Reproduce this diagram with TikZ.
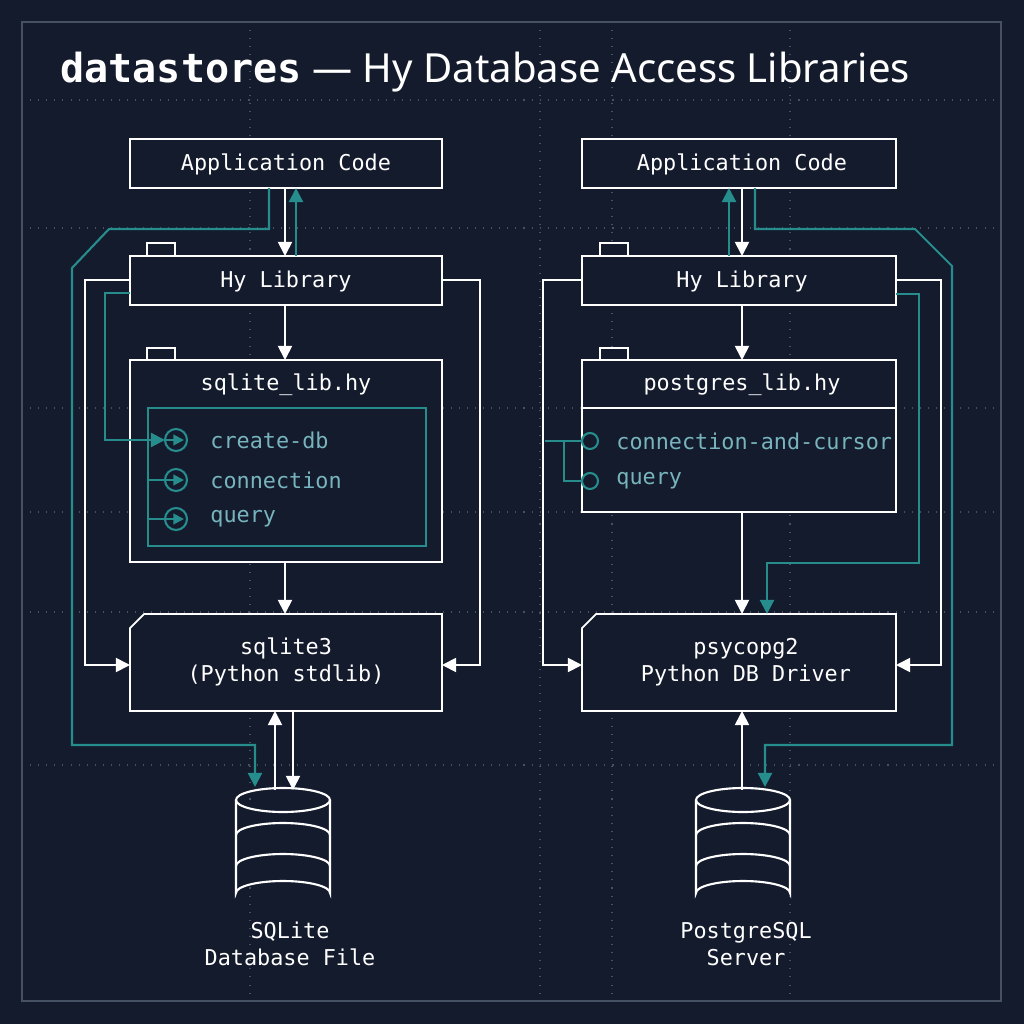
\documentclass[tikz,border=0pt]{standalone}
\usepackage{fontspec}
\setmainfont{Noto Sans}
\setmonofont{DejaVu Sans Mono}
\usetikzlibrary{arrows.meta}

\definecolor{bg}{RGB}{20,27,45}
\definecolor{myteal}{RGB}{38,140,140}
\definecolor{tealtext}{RGB}{120,180,190}
\definecolor{mygrid}{RGB}{70,82,100}

\tikzset{
  box/.style={draw=white, line width=0.5pt, fill=bg},
  wire/.style={draw=white, line width=0.5pt, -{Triangle[width=4pt,length=4pt]}},
  twire/.style={draw=myteal, line width=0.6pt, -{Triangle[width=4pt,length=4pt]}},
  lbl/.style={text=white, font=\ttfamily\fontsize{6.2}{7.5}\selectfont, align=center},
  fn/.style={text=tealtext, font=\ttfamily\fontsize{6.2}{7.5}\selectfont, anchor=west}
}

\begin{document}
\begin{tikzpicture}[x=0.01cm, y=-0.01cm]

    %Hintergrund
    \fill [bg] (0,0) rectangle (1024,1024);
    \draw [mygrid, line width=0.5pt] (22,22) rectangle (1001,1001);
    \foreach \gy in {100,228,408,512,612,765}
        \draw [mygrid, dotted, line width=0.3pt] (22,\gy) -- (1001,\gy);
    \foreach \gx in {250,540,612,790}
        \draw [mygrid, dotted, line width=0.3pt] (\gx,22) -- (\gx,1001);

    %Titel
    \node [anchor=west, text=white, font=\fontsize{11.4}{13}\selectfont] (title) at (48,72)
        {\textbf{\ttfamily datastores} --- Hy Database Access Libraries};

%Linke Seite

    %Kaesten
    \draw [box] (147,243) rectangle (175,256);
    \draw [box] (147,348) rectangle (175,360);
    \draw [box] (130,139) rectangle (442,188);
    \draw [box] (130,256) rectangle (442,305);
    \draw [box] (130,360) rectangle (442,562);
    \draw [myteal, line width=0.6pt] (148,408) rectangle (426,546);
    \draw [box] (144,614) -- (442,614) -- (442,711) -- (130,711) -- (130,628) -- cycle;
    \node [lbl] (appA) at (286,164) {Application Code};
    \node [lbl] (hyA) at (286,281) {Hy Library};
    \node [lbl] (libA) at (286,385) {sqlite\_lib.hy};
    \node [lbl] (sqlA) at (286,662) {sqlite3\\(Python stdlib)};

    %Funktionen
    \foreach \fy/\fname in {440/create-db,480/connection,519/query} {
        \draw [myteal, line width=0.6pt] (176,\fy) circle (11);
        \draw [myteal, line width=0.6pt, -{Triangle[width=3pt,length=3pt]}] (166,\fy) -- (184,\fy);
        \node [fn] at (198,\fy) {\fname};
    }
    \draw [myteal, line width=0.6pt] (148,480) -- (165,480);
    \draw [myteal, line width=0.6pt] (148,519) -- (165,519);

    %Datenbank
    \draw [white, line width=0.6pt, fill=bg] (236,800) -- (236,893) arc (180:360:47 and 12) -- (330,800);
    \draw [white, line width=0.6pt] (283,800) ellipse (47 and 12);
    \draw [white, line width=0.6pt] (236,835) arc (180:360:47 and 12);
    \draw [white, line width=0.6pt] (236,866) arc (180:360:47 and 12);
    \node [lbl] (dbA) at (290,944) {SQLite\\Database File};

    %Pfeile
    \draw [wire] (285,188) -- (285,256);
    \draw [twire] (296,256) -- (296,188);
    \draw [wire] (285,305) -- (285,360);
    \draw [wire] (285,562) -- (285,614);
    \draw [wire] (130,280) -- (85,280) -- (85,665) -- (130,665);
    \draw [wire] (442,280) -- (480,280) -- (480,665) -- (442,665);
    \draw [twire] (130,293) -- (105,293) -- (105,440) -- (165,440);
    \draw [twire] (269,188) -- (269,229) -- (109,229) -- (72,268) -- (72,745) -- (255,745) -- (255,787);
    \draw [wire] (275,790) -- (275,711);
    \draw [wire] (293,711) -- (293,790);

%Rechte Seite

    %Kaesten
    \draw [box] (600,243) rectangle (628,256);
    \draw [box] (600,348) rectangle (628,360);
    \draw [box] (582,139) rectangle (896,188);
    \draw [box] (582,256) rectangle (896,305);
    \draw [box] (582,360) rectangle (896,512);
    \draw [white, line width=0.5pt] (582,408) -- (896,408);
    \draw [box] (596,614) -- (896,614) -- (896,711) -- (582,711) -- (582,628) -- cycle;
    \node [lbl] (appB) at (742,164) {Application Code};
    \node [lbl] (hyB) at (742,281) {Hy Library};
    \node [lbl] (libB) at (742,385) {postgres\_lib.hy};
    \node [lbl] (pgB) at (746,662) {psycopg2\\Python DB Driver};

    %Funktionen
    \foreach \fy/\fname in {441/connection-and-cursor,481/query} {
        \draw [myteal, line width=0.6pt, fill=bg] (590,\fy) circle (8);
        \node [fn] at (604,\fy) {\fname};
    }
    \draw [myteal, line width=0.6pt] (545,441) -- (582,441);
    \draw [myteal, line width=0.6pt] (564,441) -- (564,481) -- (582,481);

    %Datenbank
    \draw [white, line width=0.6pt, fill=bg] (696,800) -- (696,893) arc (180:360:47 and 12) -- (790,800);
    \draw [white, line width=0.6pt] (743,800) ellipse (47 and 12);
    \draw [white, line width=0.6pt] (696,835) arc (180:360:47 and 12);
    \draw [white, line width=0.6pt] (696,866) arc (180:360:47 and 12);
    \node [lbl] (dbB) at (746,944) {PostgreSQL\\Server};

    %Pfeile
    \draw [wire] (742,188) -- (742,256);
    \draw [twire] (729,256) -- (729,188);
    \draw [wire] (742,305) -- (742,360);
    \draw [wire] (742,512) -- (742,614);
    \draw [wire] (582,280) -- (543,280) -- (543,665) -- (582,665);
    \draw [wire] (896,280) -- (941,280) -- (941,665) -- (896,665);
    \draw [twire] (896,294) -- (919,294) -- (919,563) -- (767,563) -- (767,614);
    \draw [twire] (755,188) -- (755,229) -- (915,229) -- (952,266) -- (952,745) -- (765,745) -- (765,787);
    \draw [wire, {Triangle[width=4pt,length=4pt]}-] (742,711) -- (742,790);

\end{tikzpicture}
\end{document}
